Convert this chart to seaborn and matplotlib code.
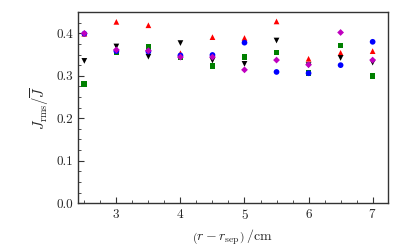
import matplotlib
matplotlib.use("Agg")
import matplotlib.pyplot as plt
from matplotlib.ticker import MultipleLocator
import seaborn as sns
import pandas as pd

# radial position relative to separatrix (cm)
r_pos = [2.5, 3.0, 3.5, 4.0, 4.5, 5.0, 5.5, 6.0, 6.5, 7.0]

# J_rms / mean(J) for each series
red_up = [0.399, 0.427, 0.419, 0.353, 0.391, 0.389, 0.428, 0.340, 0.354, 0.358]
green_sq = [0.281, 0.355, 0.367, 0.345, 0.323, 0.345, 0.355, 0.307, 0.371, 0.300]
black_down = [0.335, 0.369, 0.345, 0.377, 0.336, 0.328, 0.383, 0.325, 0.342, 0.331]
blue_circ = [0.399, 0.358, 0.357, 0.348, 0.349, 0.378, 0.309, 0.306, 0.325, 0.380]
magenta_dia = [0.400, 0.361, 0.359, 0.344, 0.344, 0.314, 0.337, 0.326, 0.402, 0.337]

series = [
    ("red", "^", red_up),
    ("green", "s", green_sq),
    ("black", "v", black_down),
    ("blue", "o", blue_circ),
    ("m", "D", magenta_dia),
]

sns.set_style("ticks")
plt.rcParams["font.family"] = ["cmr10", "DejaVu Serif"]
plt.rcParams["mathtext.fontset"] = "cm"
plt.rcParams["axes.formatter.use_mathtext"] = True

fig = plt.figure(figsize=(4.08, 2.52), dpi=100)
ax = fig.add_axes([0.191, 0.194, 0.760, 0.758])

for i, (col, mk, vals) in enumerate(series):
    df = pd.DataFrame({"r": r_pos, "J": vals})
    sns.scatterplot(data=df, x="r", y="J", ax=ax, color=col, marker=mk,
                    s=17 if mk != "D" else 12, edgecolor="none", zorder=3 + i,
                    legend=False)

ax.set_xlim(2.4, 7.24)
ax.set_ylim(0.0, 0.45)
ax.xaxis.set_major_locator(MultipleLocator(1))
ax.xaxis.set_minor_locator(MultipleLocator(0.25))
ax.yaxis.set_major_locator(MultipleLocator(0.1))
ax.yaxis.set_minor_locator(MultipleLocator(0.025))
ax.yaxis.set_major_formatter(matplotlib.ticker.FormatStrFormatter("%.1f"))
ax.tick_params(which="both", direction="in", top=False, right=False,
               labelsize=9.5, color="#333333")
ax.tick_params(which="major", length=4, width=0.8)
ax.tick_params(which="minor", length=2, width=0.6)
for sp in ax.spines.values():
    sp.set_color("#333333")
    sp.set_linewidth(1.0)

ax.set_xlabel(r"$\left(r-r_{\rm sep}\right)\;/{\rm cm}$", fontsize=10)
ax.set_ylabel(r"$J_{\rm rms}/\overline{J}$", fontsize=10.5)

fig.savefig("out.png", dpi=100)
